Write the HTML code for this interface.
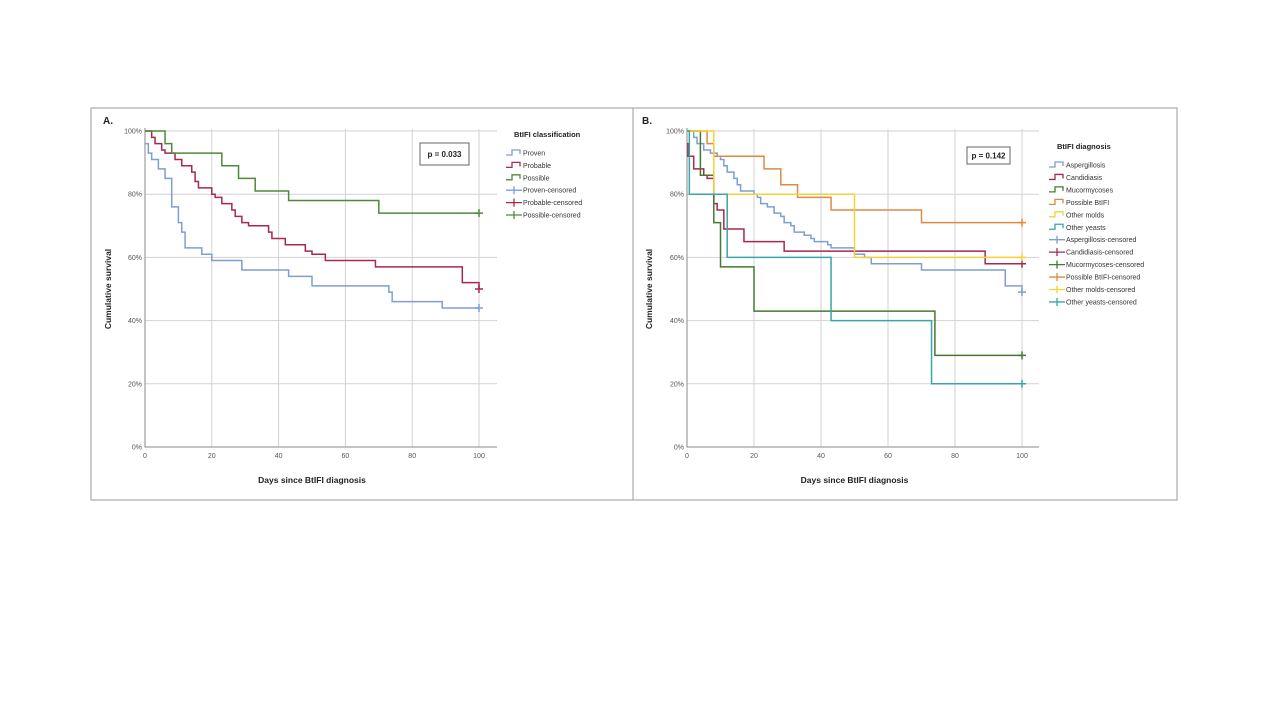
<!DOCTYPE html>
<html><head><meta charset="utf-8">
<style>
html,body{margin:0;padding:0;background:#fff;}
svg{display:block;font-family:"Liberation Sans",sans-serif;}
</style></head>
<body>
<svg id="chart" width="1280" height="720" viewBox="0 0 1280 720">
<rect x="91" y="108" width="542" height="392" fill="#fff" stroke="#9a9a9a" stroke-width="1"/>
<rect x="633" y="108" width="544" height="392" fill="#fff" stroke="#9a9a9a" stroke-width="1"/>
<text x="103" y="124" font-size="10" font-weight="bold" fill="#222">A.</text>
<text x="642" y="124" font-size="10" font-weight="bold" fill="#222">B.</text>
<g id="pa"></g>
<g id="pb"></g>
</svg>
<script>
// ---- data: panel A ----
const xTicks = [0, 20, 40, 60, 80, 100];
const yTicks = [0, 20, 40, 60, 80, 100];
const provenT = [0, 1, 2, 4, 6, 8, 10, 11, 12, 17, 20, 29, 43, 50, 73, 74, 89, 100];
const provenS = [96, 93, 91, 88, 85, 76, 71, 68, 63, 61, 59, 56, 54, 51, 49, 46, 44, 44];
const probableT = [0, 2, 3, 5, 6, 9, 11, 14, 15, 16, 20, 21, 23, 26, 27, 29, 31, 37, 38, 42, 48, 50, 54, 69, 95, 100];
const probableS = [100, 98, 96, 94, 93, 91, 89, 87, 84, 82, 80, 79, 77, 75, 73, 71, 70, 68, 66, 64, 62, 61, 59, 57, 52, 50];
const possibleT = [0, 6, 8, 23, 28, 33, 43, 70, 100];
const possibleS = [100, 96, 93, 89, 85, 81, 78, 74, 74];
// ---- data: panel B ----
const asperT = [0, 2, 3, 5, 7, 9, 10, 11, 12, 14, 15, 16, 20, 21, 22, 24, 26, 28, 29, 31, 32, 35, 37, 38, 42, 43, 50, 53, 55, 70, 95, 100];
const asperS = [100, 98, 96, 94, 93, 92, 91, 89, 87, 85, 83, 81, 80, 79, 77, 76, 74, 73, 71, 70, 68, 67, 66, 65, 64, 63, 61, 60, 58, 56, 51, 49];
const candT = [0, 0.3, 2, 5, 6, 8, 9, 11, 17, 29, 89, 100];
const candS = [96, 92, 88, 86, 85, 77, 75, 69, 65, 62, 58, 58];
const mucorT = [0, 4, 8, 10, 20, 74, 100];
const mucorS = [100, 86, 71, 57, 43, 29, 29];
const possBT = [0, 6, 8, 23, 28, 33, 43, 70, 100];
const possBS = [100, 96, 92, 88, 83, 79, 75, 71, 71];
const moldsT = [0, 8, 50, 100];
const moldsS = [100, 80, 60, 60];
const yeastsT = [0, 0.7, 12, 43, 73, 100];
const yeastsS = [100, 80, 60, 40, 20, 20];

const NS = "http://www.w3.org/2000/svg";
function mk(parent, tag, attrs) {
  const e = document.createElementNS(NS, tag);
  for (const k in attrs) e.setAttribute(k, attrs[k]);
  parent.appendChild(e);
  return e;
}

function drawPanel(g, cfg) {
  const xs = v => cfg.x0 + (cfg.x1 - cfg.x0) * v / 100;
  const ys = v => cfg.y0 + (cfg.y1 - cfg.y0) * v / 100;
  // grid
  xTicks.forEach(t => {
    if (t === 0) return;
    const l = mk(g, "line", {x1: xs(t), x2: xs(t), y1: ys(100) - 2, y2: ys(0), stroke: "#d2d2d2", "stroke-width": 1});
    
    
  });
  yTicks.forEach(t => {
    if (t === 0) return;
    const l = mk(g, "line", {x1: xs(0), x2: cfg.xr, y1: ys(t), y2: ys(t), stroke: "#d2d2d2", "stroke-width": 1});
    
    
  });
  // axes
  const ax = mk(g, "path", {d: `M${xs(0)},${ys(100)-3}V${ys(0)}H${cfg.xr}`, fill: "none", stroke: "#888", "stroke-width": 1});
  
  
  xTicks.forEach(t => {
    const tx = mk(g, "text", {x: xs(t), y: ys(0) + 11, "font-size": 7, fill: "#555", "text-anchor": "middle"});
    tx.textContent = t;
    
    
  });
  yTicks.forEach(t => {
    const tx = mk(g, "text", {x: xs(0) - 3, y: ys(t) + 2.5, "font-size": 7, fill: "#555", "text-anchor": "end"});
    tx.textContent = t + "%";
    
    
  });
  const xt = mk(g, "text", {x: (xs(0) + xs(100)) / 2, y: 483, "font-size": 8.5, "font-weight": "bold", fill: "#222", "text-anchor": "middle"});
  xt.textContent = "Days since BtIFI diagnosis";
  
  
  const yt = mk(g, "text", {x: 0, y: 0, "font-size": 8.5, "font-weight": "bold", fill: "#222", "text-anchor": "middle", transform: `translate(${cfg.ytx},${ys(50)}) rotate(-90)`});
  yt.textContent = "Cumulative survival";
  
  
  // series
  cfg.series.forEach(s => {
    let d = `M${xs(s.t[0])},${ys(s.s[0])}`;
    for (let i = 1; i < s.t.length; i++) d += `H${xs(s.t[i])}V${ys(s.s[i])}`;
    const p = mk(g, "path", {d: d, fill: "none", stroke: s.c, "stroke-width": 1.5});
    
    
    const lx = xs(s.t[s.t.length - 1]), ly = ys(s.s[s.s.length - 1]);
    const cm = mk(g, "path", {d: `M${lx-4},${ly}H${lx+4}M${lx},${ly-4}V${ly+4}`, stroke: s.c, "stroke-width": 1.5});
    
    
  });
  // p box
  const pb = mk(g, "rect", {x: cfg.pbox[0], y: cfg.pbox[1], width: cfg.pbox[2], height: cfg.pbox[3], fill: "#fff", stroke: "#666", "stroke-width": 1});
  
  
  const pt = mk(g, "text", {x: cfg.pbox[0] + cfg.pbox[2] / 2, y: cfg.pbox[1] + cfg.pbox[3] / 2 + 3, "font-size": 8, "font-weight": "bold", fill: "#222", "text-anchor": "middle"});
  pt.textContent = cfg.ptext;
  
  
  // legend
  const lt = mk(g, "text", {x: cfg.leg.x + 8, y: cfg.leg.ty, "font-size": 7.5, "font-weight": "bold", fill: "#222"});
  lt.textContent = cfg.leg.title;
  
  
  const all = cfg.series.map(s => ({label: s.label, c: s.c, cens: false}))
    .concat(cfg.series.map(s => ({label: s.label + "-censored", c: s.c, cens: true})));
  all.forEach((e, i) => {
    const y = cfg.leg.y0 + i * cfg.leg.dy;
    const x = cfg.leg.x;
    const ic = mk(g, "path", {d: e.cens ? `M${x},${y}H${x+16}M${x+8},${y-4}V${y+4}` : `M${x},${y+2}H${x+6}V${y-3}H${x+14}V${y+1}`, fill: "none", stroke: e.c, "stroke-width": 1.3});
    
    
    const tx = mk(g, "text", {x: x + 17, y: y + 2.5, "font-size": 7, fill: "#333"});
    tx.textContent = e.label;
    
    
  });
}

drawPanel(document.getElementById("pa"), {
  x0: 145, x1: 479, y0: 447, y1: 131, xr: 497, ytx: 111,
  pbox: [420, 143, 49, 22], ptext: "p = 0.033",
  leg: {x: 506, ty: 137, y0: 153, dy: 12.4, title: "BtIFI classification"},
  series: [
    {name: "proven", label: "Proven", t: provenT, s: provenS, c: "#7d9fd3"},
    {name: "probable", label: "Probable", t: probableT, s: probableS, c: "#a8284f"},
    {name: "possible", label: "Possible", t: possibleT, s: possibleS, c: "#4f8a3c"}
  ]
});
drawPanel(document.getElementById("pb"), {
  x0: 687, x1: 1022, y0: 447, y1: 131, xr: 1039, ytx: 652,
  pbox: [967, 147, 43, 17], ptext: "p = 0.142",
  leg: {x: 1049, ty: 149, y0: 165, dy: 12.45, title: "BtIFI diagnosis"},
  series: [
    {name: "aspergillosis", label: "Aspergillosis", t: asperT, s: asperS, c: "#7d9fd3"},
    {name: "candidiasis", label: "Candidiasis", t: candT, s: candS, c: "#a8284f"},
    {name: "mucormycoses", label: "Mucormycoses", t: mucorT, s: mucorS, c: "#437a32"},
    {name: "possible-btifi", label: "Possible BtIFI", t: possBT, s: possBS, c: "#df8a42"},
    {name: "other-molds", label: "Other molds", t: moldsT, s: moldsS, c: "#f3d238"},
    {name: "other-yeasts", label: "Other yeasts", t: yeastsT, s: yeastsS, c: "#3aa4a6"}
  ]
});
</script>
</body></html>
